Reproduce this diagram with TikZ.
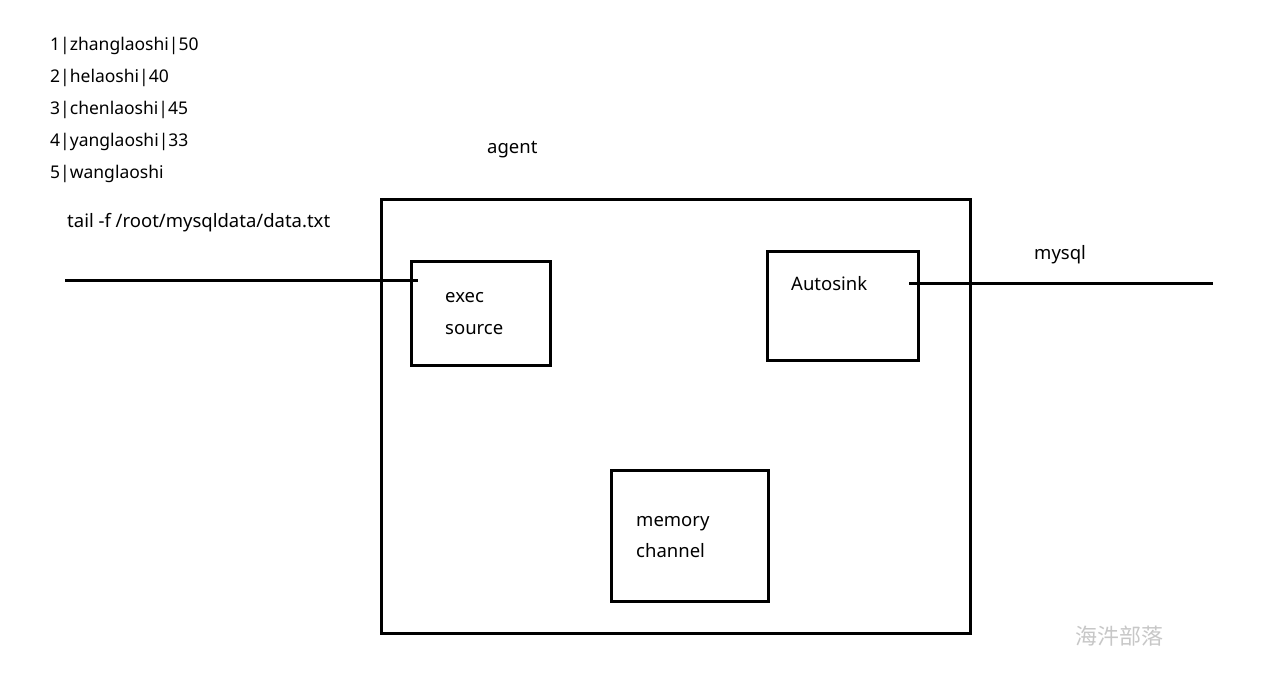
\documentclass[tikz,border=0pt]{standalone}
\usepackage{fontspec}
\setmainfont{Noto Sans}
\newfontfamily\cjk{Noto Sans CJK SC}
\begin{document}
\begin{tikzpicture}[x=1pt,y=-1pt,
  box/.style={draw=black,line width=3pt,inner sep=0pt},
  wire/.style={draw=black,line width=3pt},
  lbl/.style={anchor=base west,inner sep=0pt,font=\fontsize{18.5}{22}\selectfont},
  lst/.style={anchor=base west,inner sep=0pt,font=\fontsize{17.5}{21}\selectfont},
]
\useasboundingbox[fill=white] (0,0) rectangle (1270,684);
% boxes
\node[box,minimum width=589pt,minimum height=433pt] (agent) at (675.5,416.5) {};
\node[box,minimum width=139pt,minimum height=104pt] (exec) at (480.5,314) {};
\node[box,minimum width=151pt,minimum height=109pt] (sink) at (842.5,306.5) {};
\node[box,minimum width=157pt,minimum height=130pt] (mem) at (689.5,536) {};
% wires
\coordinate (inL) at (65,281);
\coordinate (inR) at (418,281);
\coordinate (outL) at (909,284);
\coordinate (outR) at (1213,284);
\draw[wire] (inL) -- (inR);
\draw[wire] (outL) -- (outR);
% texts
\node[lst] (l1) at (50,51) {1|zhanglaoshi|50};
\node[lst] (l2) at (50,83) {2|helaoshi|40};
\node[lst] (l3) at (50,115) {3|chenlaoshi|45};
\node[lst] (l4) at (50,147) {4|yanglaoshi|33};
\node[lst] (l5) at (50,179) {5|wanglaoshi};
\node[lbl] (tail) at (67,228) {tail -f /root/mysqldata/data.txt};
\node[lbl] (agentlbl) at (487,154) {agent};
\node[lbl] (mysql) at (1034,260) {mysql};
\node[lbl] (e1) at (445,303) {exec};
\node[lbl] (e2) at (445,335) {source};
\node[lbl] (s1) at (791,291) {Autosink};
\node[lbl] (m1) at (636,526) {memory};
\node[lbl] (m2) at (636,558) {channel};
\node[anchor=base west,inner sep=0pt,text=black!22,font=\cjk\fontsize{22}{26}\selectfont] (wm) at (1075,644) {海汼部落};
\end{tikzpicture}
\end{document}
